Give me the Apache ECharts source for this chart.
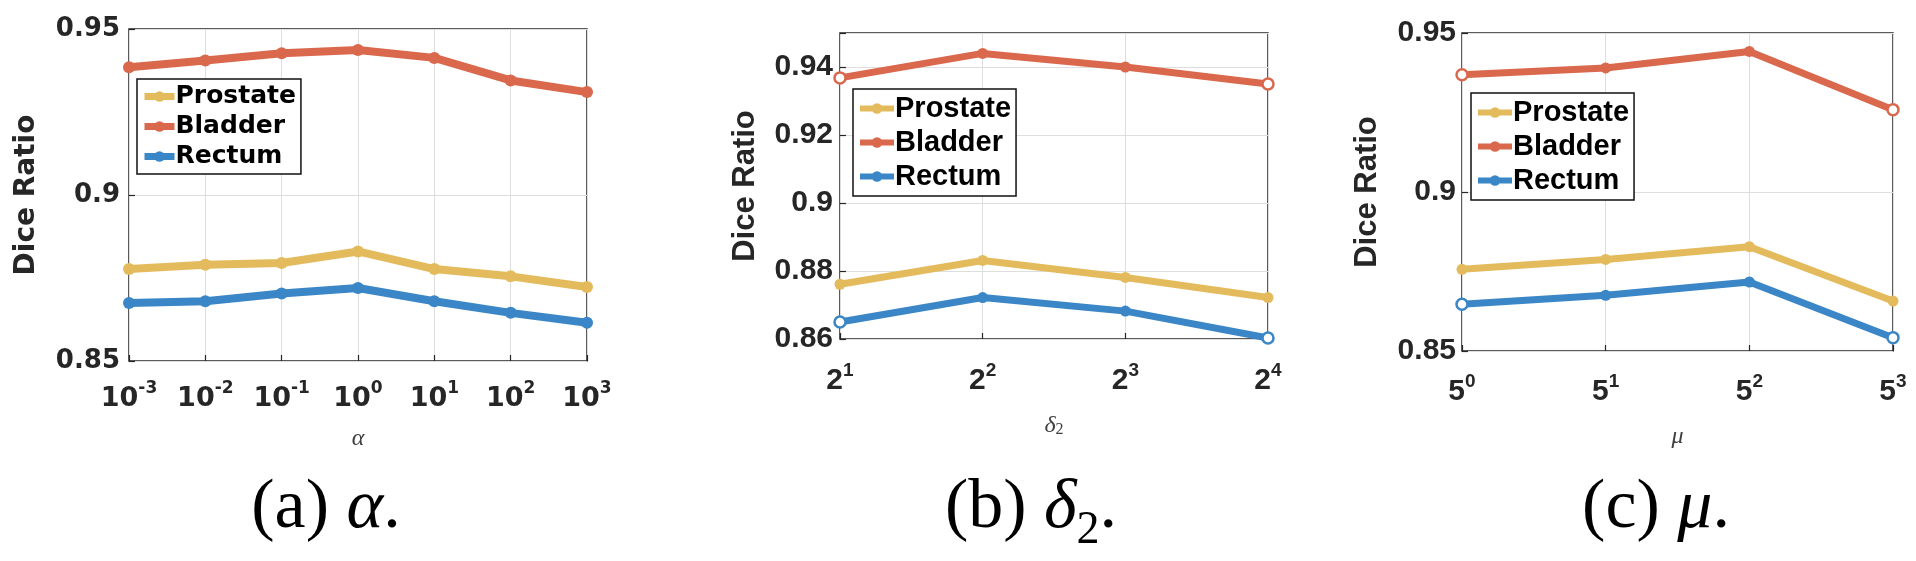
<!DOCTYPE html>
<html><head><meta charset="utf-8">
<script src="https://cdn.jsdelivr.net/npm/echarts@6/dist/echarts.min.js"></script>
<style>html,body{margin:0;padding:0;background:#fff}#c{width:1916px;height:561px}</style>
</head><body><div id="c"></div>
<script>
// ---------- data ----------
const seriesNames = ['Prostate', 'Bladder', 'Rectum'];

const xTicksA = ['10^-3', '10^-2', '10^-1', '10^0', '10^1', '10^2', '10^3'];
const prostateA = [0.8777, 0.8790, 0.8795, 0.8830, 0.8777, 0.8755, 0.8723];
const bladderA  = [0.9385, 0.9405, 0.9427, 0.9437, 0.9413, 0.9345, 0.9310];
const rectumA   = [0.8675, 0.8680, 0.8703, 0.8720, 0.8680, 0.8645, 0.8615];
const yTicksA = [0.85, 0.9, 0.95];

const xTicksB = ['2^1', '2^2', '2^3', '2^4'];
const prostateB = [0.8761, 0.8831, 0.8781, 0.8722];
const bladderB  = [0.9368, 0.9440, 0.9400, 0.9350];
const rectumB   = [0.8650, 0.8722, 0.8682, 0.8603];
const yTicksB = [0.86, 0.88, 0.9, 0.92, 0.94];

const xTicksC = ['5^0', '5^1', '5^2', '5^3'];
const prostateC = [0.8757, 0.8788, 0.8828, 0.8657];
const bladderC  = [0.9369, 0.9390, 0.9442, 0.9259];
const rectumC   = [0.8647, 0.8675, 0.8717, 0.8542];
const yTicksC = [0.85, 0.9, 0.95];

// ---------- styles ----------
const colors = { Prostate: '#E4BB5C', Bladder: '#D9684D', Rectum: '#3B86C6' };
const ink = '#262626';

const panels = [
  { cats: xTicksA, vals: [prostateA, bladderA, rectumA], yTicks: yTicksA,
    ymin: 0.85, ymax: 0.95, interval: 0.05,
    grid: { left: 129, top: 29, width: 458, height: 332 },
    font: '"DejaVu Sans"', ylSize: 26, ylMargin: 9, ynSize: 28, ynGap: 88,
    xlB: 27, xlS: 17, xlMargin: 19, xName: '{i|α}', xnGap: 66,
    legend: { left: 137, top: 79, size: 25, iw: 30, gap: 5, pad: [5, 5, 5, 4] },
    lw: 8, sym: 12, hollow: [] },
  { cats: xTicksB, vals: [prostateB, bladderB, rectumB], yTicks: yTicksB,
    ymin: 0.86, ymax: 0.95, interval: 0.02,
    grid: { left: 840, top: 33, width: 428, height: 306 },
    font: '"Liberation Sans"', ylSize: 30, ylMargin: 7, ynSize: 31, ynGap: 79,
    xlB: 30, xlS: 19, xlMargin: 22, xName: '{i|δ}{sub|2}', xnGap: 75,
    legend: { left: 853, top: 89, size: 29, iw: 34, gap: 5, pad: [5, 5, 5, 4] },
    lw: 7, sym: 11, hollow: [0, 3] },
  { cats: xTicksC, vals: [prostateC, bladderC, rectumC], yTicks: yTicksC,
    ymin: 0.85, ymax: 0.95, interval: 0.05,
    grid: { left: 1462, top: 33, width: 431, height: 318 },
    font: '"Liberation Sans"', ylSize: 30, ylMargin: 6, ynSize: 31, ynGap: 79,
    xlB: 30, xlS: 19, xlMargin: 21, xName: '{i|μ}', xnGap: 74,
    legend: { left: 1471, top: 93, size: 29, iw: 34, gap: 5, pad: [5, 5, 5, 4] },
    lw: 7, sym: 11, hollow: [0, 3] }
];

const grids = [], xAxes = [], yAxes = [], series = [], legends = [];
panels.forEach((p, k) => {
  grids.push(Object.assign({ show: true, borderColor: ink, borderWidth: 1.5, backgroundColor: '#fff' }, p.grid));
  xAxes.push({
    type: 'category', gridIndex: k, data: p.cats, boundaryGap: false,
    axisLine: { show: false },
    axisTick: { show: true, inside: true, length: 6, lineStyle: { color: ink, width: 1.2 } },
    splitLine: { show: true, lineStyle: { color: '#dedede', width: 1 } },
    axisLabel: {
      margin: p.xlMargin, interval: 0,
      formatter: v => { const s = v.split('^'); return '{b|' + s[0] + '}{s|' + s[1] + '}'; },
      rich: {
        b: { fontFamily: p.font, fontWeight: 'bold', fontSize: p.xlB, lineHeight: p.xlB + 5, verticalAlign: 'bottom', color: ink },
        s: { fontFamily: p.font, fontWeight: 'bold', fontSize: p.xlS, lineHeight: p.xlS - 5, verticalAlign: 'top', color: ink }
      }
    },
    name: p.xName, nameLocation: 'middle', nameGap: p.xnGap,
    nameTextStyle: {
      rich: {
        i: { fontFamily: '"Liberation Serif"', fontStyle: 'italic', fontSize: 24, lineHeight: 24, verticalAlign: 'top', color: '#404040' },
        sub: { fontFamily: '"Liberation Serif"', fontSize: 16, lineHeight: 16, verticalAlign: 'bottom', color: '#404040', padding: [14, 0, 0, 0] }
      }
    }
  });
  yAxes.push({
    type: 'value', gridIndex: k, min: p.ymin, max: p.ymax, interval: p.interval,
    axisLine: { show: false },
    axisTick: { show: true, inside: true, length: 6, lineStyle: { color: ink, width: 1.2 } },
    splitLine: { show: true, lineStyle: { color: '#dedede', width: 1 } },
    axisLabel: {
      margin: p.ylMargin, fontFamily: p.font, fontWeight: 'bold', fontSize: p.ylSize, color: ink,
      formatter: v => p.yTicks.some(t => Math.abs(t - v) < 1e-6) ? String(+v.toFixed(3)) : ''
    },
    name: 'Dice Ratio', nameLocation: 'middle', nameGap: p.ynGap, nameRotate: 90,
    nameTextStyle: { fontFamily: p.font, fontWeight: 'bold', fontSize: p.ynSize, color: ink }
  });
  seriesNames.forEach((nm, j) => {
    const col = colors[nm];
    const hollowIdx = (nm === 'Prostate') ? [] : p.hollow;
    series.push({
      type: 'line', name: nm, xAxisIndex: k, yAxisIndex: k, clip: false,
      symbol: 'circle', symbolSize: p.sym, color: col,
      lineStyle: { width: p.lw, color: col }, itemStyle: { color: col },
      data: p.vals[j].map((v, i) => hollowIdx.indexOf(i) >= 0
        ? { value: v, itemStyle: { color: '#fff', borderColor: col, borderWidth: 2.5 } }
        : v),
      z: 3 + j
    });
  });
  legends.push({
    orient: 'vertical', left: p.legend.left, top: p.legend.top,
    data: seriesNames, padding: p.legend.pad, itemGap: p.legend.gap,
    itemWidth: p.legend.iw, itemHeight: 13,
    lineStyle: { width: p.lw - 1 },
    backgroundColor: '#fff', borderColor: '#111', borderWidth: 1.5, borderRadius: 0,
    selectedMode: false,
    textStyle: { fontFamily: p.font, fontWeight: 'bold', fontSize: p.legend.size, color: '#000', padding: [0, 0, 0, -4] }
  });
});

const capRich = {
  n: { fontFamily: '"Liberation Serif"', fontSize: 70, lineHeight: 80, verticalAlign: 'top', fill: '#000' },
  i: { fontFamily: '"Liberation Serif"', fontStyle: 'italic', fontSize: 70, lineHeight: 80, verticalAlign: 'top', fill: '#000' },
  sub: { fontFamily: '"Liberation Serif"', fontSize: 46, lineHeight: 38, verticalAlign: 'bottom', fill: '#000' }
};
const captions = [
  { x: 326, text: '{n|(a) }{i|α}{n|.}' },
  { x: 1031, text: '{n|(b) }{i|δ}{sub|2}{n|.}' },
  { x: 1656, text: '{n|(c) }{i|μ}{n|.}' }
];

const chart = echarts.init(document.getElementById('c'), null, { renderer: 'canvas' });
chart.setOption({
  animation: false,
  backgroundColor: '#fff',
  grid: grids, xAxis: xAxes, yAxis: yAxes, series: series, legend: legends,
  graphic: captions.map(c => ({
    type: 'text', x: c.x, y: 514,
    style: { text: c.text, rich: capRich, align: 'center', verticalAlign: 'middle' }
  }))
});
</script></body></html>
